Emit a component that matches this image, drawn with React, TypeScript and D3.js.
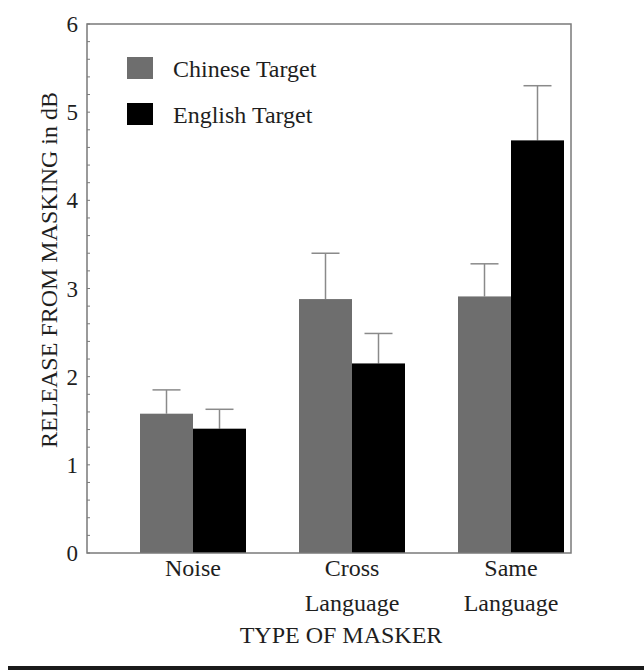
import React from "react";
import * as d3 from "d3";

const categories = ["Noise", "Cross Language", "Same Language"];
const categoryLines = [["Noise"], ["Cross", "Language"], ["Same", "Language"]];
const seriesNames = ["Chinese Target", "English Target"];
const chineseValues = [1.58, 2.88, 2.91];
const chineseErrors = [0.27, 0.52, 0.37];
const englishValues = [1.41, 2.15, 4.68];
const englishErrors = [0.22, 0.34, 0.62];
const yTicks = [0, 1, 2, 3, 4, 5, 6];

const W = 644;
const H = 670;
const plot = { left: 87, right: 571, top: 24, bottom: 553 };
const colors = ["#6e6e6e", "#000000"];
const font = "Liberation Serif, Times New Roman, serif";

export default function App() {
  const y = d3.scaleLinear().domain([0, 6]).range([plot.bottom, plot.top]);
  const x = d3
    .scaleBand<string>()
    .domain(categories)
    .range([113.5, 590.5])
    .paddingInner(1 / 3)
    .paddingOuter(1 / 6);
  const xs = d3.scaleBand<string>().domain(seriesNames).range([0, x.bandwidth()]);
  const values = [chineseValues, englishValues];
  const errors = [chineseErrors, englishErrors];
  const minor = d3.range(0, 6.0001, 0.2);
  const capW = 28;
  const txt = { fontFamily: font, fill: "#1e1e1e" };

  return (
    <svg
      width={W}
      height={H}
      style={{ position: "absolute", left: 0, top: 0, background: "#fff" }}
    >
      <rect x={0} y={0} width={W} height={H} fill="#fff" />
      {seriesNames.map((s, si) =>
        categories.map((c, ci) => {
          const bx = (x(c) ?? 0) + (xs(s) ?? 0);
          const v = values[si][ci];
          const e = errors[si][ci];
          const cx = bx + xs.bandwidth() / 2;
          return (
            <g key={s + c}>
              <line x1={cx} x2={cx} y1={y(v)} y2={y(v + e)} stroke="#8a8a8a" strokeWidth={1.5} />
              <line x1={cx - capW / 2} x2={cx + capW / 2} y1={y(v + e)} y2={y(v + e)} stroke="#8a8a8a" strokeWidth={1.5} />
              <rect x={bx} y={y(v)} width={xs.bandwidth()} height={y(0) - y(v)} fill={colors[si]} />
            </g>
          );
        })
      )}
      <rect
        x={plot.left}
        y={plot.top}
        width={plot.right - plot.left}
        height={plot.bottom - plot.top}
        fill="none"
        stroke="#7a7a7a"
        strokeWidth={1.5}
      />
      {minor.map((t, i) => (
        <line key={i} x1={plot.left} x2={plot.left + 3} y1={y(t)} y2={y(t)} stroke="#7a7a7a" strokeWidth={1} />
      ))}
      {yTicks.map((t) => (
        <text key={t} x={78} y={y(t)} dy="0.35em" textAnchor="end" fontSize={23} {...txt}>
          {t}
        </text>
      ))}
      <text
        transform={`translate(57, 270) rotate(-90)`}
        textAnchor="middle"
        fontSize={24}
        {...txt}
      >
        RELEASE FROM MASKING in dB
      </text>
      {categories.map((c, ci) => {
        const cx = (x(c) ?? 0) + x.bandwidth() / 2;
        return categoryLines[ci].map((ln, li) => (
          <text key={c + li} x={cx} y={576 + li * 35} textAnchor="middle" fontSize={24} {...txt}>
            {ln}
          </text>
        ));
      })}
      <text x={341} y={643} textAnchor="middle" fontSize={24} {...txt}>
        TYPE OF MASKER
      </text>
      {seriesNames.map((s, si) => (
        <g key={s} transform={`translate(127, ${57 + si * 46})`}>
          <rect x={0} y={0} width={26} height={22} fill={colors[si]} />
          <text x={46} y={20} fontSize={24} {...txt}>
            {s}
          </text>
        </g>
      ))}
      <rect x={8} y={666} width={W - 8} height={4} fill="#1a1a1a" />
    </svg>
  );
}
